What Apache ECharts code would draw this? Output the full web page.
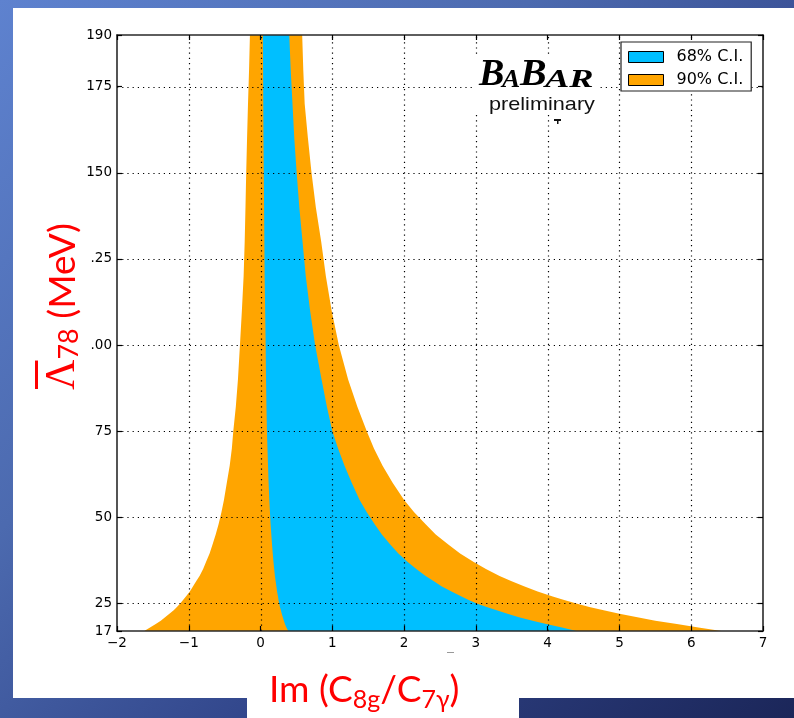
<!DOCTYPE html>
<html><head><meta charset="utf-8">
<script src="https://cdn.jsdelivr.net/npm/echarts@6/dist/echarts.min.js"></script>
<style>
html,body{margin:0;padding:0;}
body{width:794px;height:718px;overflow:hidden;position:relative;
 background:linear-gradient(135deg,#5e82cf 0%,#4c6aaf 35%,#31458a 65%,#1b2659 100%);}
#panel{position:absolute;left:13px;top:8px;width:781px;height:690px;background:#fff;}
#labbox{position:absolute;left:247px;top:690px;width:272px;height:28px;background:#fff;}
#chart{position:absolute;left:0;top:0;width:794px;height:718px;}
</style></head>
<body><div id="panel"></div><div id="labbox"></div><div id="chart"></div>
<script>
// ---- data ----
const lambdaLevels  = [17, 18, 19, 20, 21, 22, 23, 24, 25, 26, 27, 28.5, 30, 31.5, 33, 35, 37, 39.5, 42, 45, 48, 51.5, 55, 60, 65, 70, 75, 82, 90, 100, 110, 120, 130, 140, 150, 160, 170, 180, 190];
const orange90Left  = [-1.62, -1.54, -1.46, -1.39, -1.33, -1.27, -1.21, -1.165, -1.12, -1.08, -1.04, -0.985, -0.94, -0.895, -0.85, -0.80, -0.76, -0.71, -0.67, -0.625, -0.585, -0.545, -0.51, -0.47, -0.43, -0.40, -0.38, -0.345, -0.315, -0.287, -0.26, -0.236, -0.221, -0.210, -0.200, -0.188, -0.175, -0.160, -0.148];
const blue68Left    = [0.386, 0.36, 0.34, 0.325, 0.31, 0.295, 0.283, 0.27, 0.26, 0.25, 0.243, 0.23, 0.22, 0.21, 0.20, 0.19, 0.18, 0.17, 0.16, 0.15, 0.14, 0.131, 0.122, 0.112, 0.104, 0.096, 0.089, 0.082, 0.076, 0.071, 0.064, 0.057, 0.053, 0.049, 0.045, 0.041, 0.038, 0.035, 0.032];
const blue68Right   = [4.40, 4.20, 3.98, 3.79, 3.60, 3.44, 3.29, 3.15, 3.01, 2.90, 2.80, 2.66, 2.52, 2.41, 2.30, 2.17, 2.05, 1.92, 1.81, 1.69, 1.59, 1.48, 1.38, 1.27, 1.17, 1.08, 1.00, 0.925, 0.85, 0.76, 0.69, 0.63, 0.585, 0.54, 0.503, 0.47, 0.445, 0.42, 0.40];
const orange90Right = [6.42, 6.10, 5.80, 5.50, 5.25, 5.00, 4.78, 4.58, 4.40, 4.23, 4.07, 3.86, 3.67, 3.49, 3.33, 3.14, 2.97, 2.78, 2.62, 2.44, 2.30, 2.14, 2.00, 1.84, 1.70, 1.58, 1.48, 1.35, 1.22, 1.09, 0.99, 0.91, 0.845, 0.77, 0.71, 0.66, 0.615, 0.595, 0.58];
const seriesNames = ['68% C.I.', '90% C.I.'];
const xTickValues = [-2, -1, 0, 1, 2, 3, 4, 5, 6, 7];
const xTickLabels = ['\u22122', '\u22121', '0', '1', '2', '3', '4', '5', '6', '7'];
const yTickValues = [17, 25, 50, 75, 100, 125, 150, 175, 190];
const yTickLabels = ['17', '25', '50', '75', '.00', '.25', '150', '175', '190'];
const xMin = -2, xMax = 7, yMin = 17, yMax = 190;

const BLUE = '#00bfff', ORANGE = '#ffa500';
const chart = echarts.init(document.getElementById('chart'), null, {renderer: 'canvas'});

function band(name, color, left, right, z) {
  return {
    type: 'custom', name: name, z: z, clip: true,
    itemStyle: {color: color},
    data: lambdaLevels.map((l, i) => [left[i], l, right[i]]),
    encode: {x: [0, 2], y: 1},
    renderItem: function (params, api) {
      if (params.dataIndexInside !== 0) return null;
      const n = params.dataInsideLength, pts = [];
      for (let i = 0; i < n; i++) pts.push(api.coord([api.value(0, i), api.value(1, i)]));
      for (let i = n - 1; i >= 0; i--) pts.push(api.coord([api.value(2, i), api.value(1, i)]));
      return {type: 'polygon', shape: {points: pts}, style: {fill: color}};
    }
  };
}
function gridLines(vals, vertical) {
  return {
    type: 'custom', z: 5, silent: true, clip: false,
    data: vals.map(v => [v]),
    encode: vertical ? {x: 0} : {y: 0},
    renderItem: function (params, api) {
      const v = api.value(0);
      let a, b;
      if (vertical) { a = api.coord([v, yMin]); b = api.coord([v, yMax]); }
      else { a = api.coord([xMin, v]); b = api.coord([xMax, v]); }
      if (vertical) { const x = Math.round(a[0]) + 0.5; a[0] = x; b[0] = x; }
      else { const y = Math.round(a[1]) + 0.5; a[1] = y; b[1] = y; }
      return {type: 'line', shape: {x1: a[0], y1: a[1], x2: b[0], y2: b[1]},
        style: {stroke: '#000', lineWidth: 1.2, lineDash: [1.2, 4]}};
    }
  };
}

const tickFont = {fontFamily: 'DejaVu Sans', fontSize: 13.5, color: '#000'};
const axisLineStyle = {show: true, onZero: false, lineStyle: {color: '#2a2a2a', width: 1.6}};
const tickStyle = {show: true, inside: true, length: 5, lineStyle: {color: '#000', width: 1.2}};

const ctx = document.createElement('canvas').getContext('2d');
function tw(font, s) { ctx.font = font; return ctx.measureText(s).width; }

// x-axis title pieces
const LF = "Lato, 'Open Sans', sans-serif";
const xParts = [
  {t: 'Im (C', f: '37px ' + LF, dy: 0},
  {t: '8g', f: '25px ' + LF, dy: 10},
  {t: '/C', f: '37px ' + LF, dy: 0},
  {t: '7\u03b3', f: '25px ' + LF, dy: 10},
  {t: ')', f: '37px ' + LF, dy: 0}
];
let cx = 0; const xTitleChildren = [];
xParts.forEach(p => {
  xTitleChildren.push({type: 'text', x: cx, y: p.dy, style: {text: p.t, font: p.f, fill: '#ff0000', verticalAlign: 'middle', align: 'left'}});
  cx += tw(p.f, p.t);
});
// y-axis title pieces (rotated)
const yParts = [
  {t: '\u039b', f: "42px 'Liberation Serif'", dy: 0},
  {t: '78', f: '27px ' + LF, dy: 6},
  {t: ' (MeV)', f: '37px ' + LF, dy: 0}
];
let cy = 0; const yTitleChildren = [];
yParts.forEach((p, i) => {
  yTitleChildren.push({type: 'text', x: cy, y: p.dy, style: {text: p.t, font: p.f, fill: '#ff0000', verticalAlign: 'middle', align: 'left'}});
  if (i === 0) yTitleChildren.push({type: 'rect', shape: {x: 1, y: -28, width: tw(p.f, p.t) - 2, height: 3}, style: {fill: '#ff0000'}});
  cy += tw(p.f, p.t);
});

const SERIF_BI = "italic bold ";
const option = {
  animation: false,
  backgroundColor: 'transparent',
  grid: {left: 117, top: 35, width: 646, height: 596, containLabel: false},
  xAxis: [
    {type: 'value', min: xMin, max: xMax, interval: 1, position: 'bottom', z: 6,
     axisLine: axisLineStyle, axisTick: tickStyle, splitLine: {show: false},
     axisLabel: Object.assign({margin: 5, formatter: v => xTickLabels[xTickValues.indexOf(v)]}, tickFont)},
    {type: 'value', min: xMin, max: xMax, interval: 1, position: 'top', z: 6,
     axisLine: axisLineStyle, axisTick: tickStyle, splitLine: {show: false}, axisLabel: {show: false}}
  ],
  yAxis: [
    {type: 'value', min: yMin, max: yMax, position: 'left', z: 6,
     axisLine: axisLineStyle, axisTick: Object.assign({customValues: yTickValues}, tickStyle), splitLine: {show: false},
     axisLabel: Object.assign({customValues: yTickValues, margin: 5, formatter: v => yTickLabels[yTickValues.indexOf(v)]}, tickFont)},
    {type: 'value', min: yMin, max: yMax, position: 'right', z: 6,
     axisLine: axisLineStyle, axisTick: Object.assign({customValues: yTickValues}, tickStyle), splitLine: {show: false},
     axisLabel: {show: false}}
  ],
  legend: {
    orient: 'vertical', left: 621, top: 42, z: 10,
    padding: [7, 8, 3, 7], itemGap: 7, itemWidth: 35, itemHeight: 11,
    backgroundColor: '#fff', borderColor: '#222', borderWidth: 1.2,
    formatter: n => '{a|' + n + '}',
    textStyle: {fontFamily: 'DejaVu Sans', fontSize: 16, lineHeight: 16, color: '#000',
      rich: {a: {fontFamily: 'DejaVu Sans', fontSize: 16, lineHeight: 16, color: '#000', padding: [0, 0, 0, 8]}}},
    data: [
      {name: seriesNames[0], icon: 'rect', itemStyle: {color: BLUE, borderColor: '#000', borderWidth: 1}},
      {name: seriesNames[1], icon: 'rect', itemStyle: {color: ORANGE, borderColor: '#000', borderWidth: 1}}
    ]
  },
  graphic: [
    {type: 'rect', z: 8, shape: {x: 475, y: 56, width: 123, height: 58}, style: {fill: '#fff'}},
    {type: 'text', z: 9, x: 479, y: 94, scaleX: 1.0, style: {text: 'B', font: SERIF_BI + "38px 'Liberation Serif'", fill: '#000', verticalAlign: 'bottom'}},
    {type: 'text', z: 9, x: 502, y: 93, scaleX: 1.05, style: {text: 'A', font: SERIF_BI + "26px 'Liberation Serif'", fill: '#000', verticalAlign: 'bottom'}},
    {type: 'text', z: 9, x: 520, y: 94, scaleX: 1.05, style: {text: 'B', font: SERIF_BI + "38px 'Liberation Serif'", fill: '#000', verticalAlign: 'bottom'}},
    {type: 'text', z: 9, x: 545, y: 93, scaleX: 1.4, style: {text: 'AR', font: SERIF_BI + "26px 'Liberation Serif'", fill: '#000', verticalAlign: 'bottom'}},
    {type: 'text', z: 9, x: 489, y: 105, scaleX: 1.14, style: {text: 'preliminary', font: "19px 'Liberation Sans'", fill: '#111', verticalAlign: 'middle'}},
    {type: 'rect', z: 9, shape: {x: 554, y: 119, width: 7, height: 2}, style: {fill: '#111'}},
    {type: 'rect', z: 9, shape: {x: 557, y: 120, width: 1.5, height: 4}, style: {fill: '#111'}},
    {type: 'rect', z: 9, shape: {x: 447, y: 652, width: 7, height: 1}, style: {fill: '#999'}},
    {type: 'group', z: 9, x: 269, y: 690, children: xTitleChildren},
    {type: 'group', z: 9, x: 63, y: 390, rotation: Math.PI / 2, children: yTitleChildren}
  ],
  series: [
    band(seriesNames[1], ORANGE, orange90Left, orange90Right, 2),
    band(seriesNames[0], BLUE, blue68Left, blue68Right, 3),
    gridLines(xTickValues.slice(1, -1), true),
    gridLines(yTickValues.slice(1, -1), false)
  ]
};
chart.setOption(option);
</script>
</body></html>
